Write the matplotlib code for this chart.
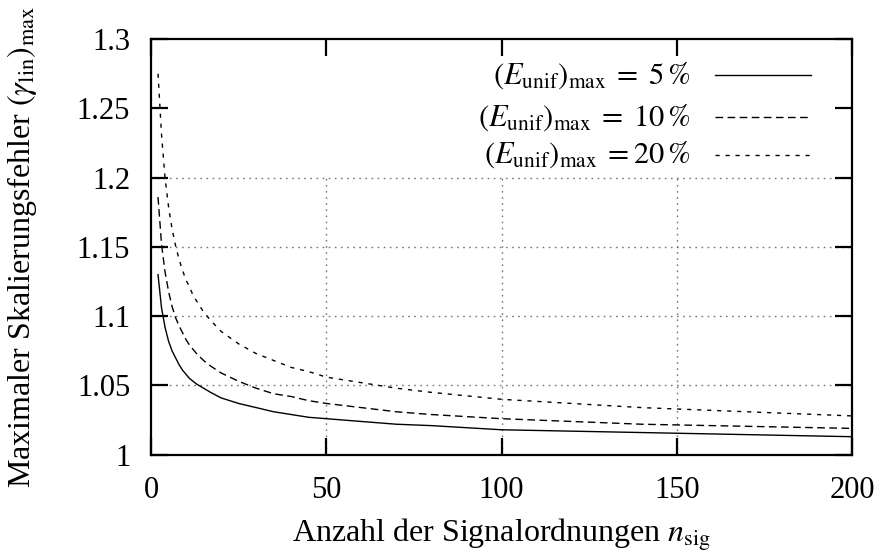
import matplotlib
matplotlib.use("Agg")
import matplotlib.pyplot as plt
from matplotlib.lines import Line2D

plt.rcParams["font.family"] = ["Liberation Serif", "DejaVu Serif"]
plt.rcParams["mathtext.fontset"] = "stix"
plt.rcParams["font.size"] = 22

# values
n_sig = [2, 3, 4, 5, 6, 7, 8, 9, 10, 11, 12, 13, 15, 17, 20, 25, 30, 35,
         40, 45, 50, 60, 70, 80, 100, 120, 140, 160, 180, 200]
gamma_5 = [1.130, 1.106, 1.092, 1.082, 1.075, 1.070, 1.065, 1.061, 1.058,
           1.055, 1.053, 1.051, 1.048, 1.045, 1.041, 1.037, 1.034, 1.031,
           1.029, 1.027, 1.026, 1.024, 1.022, 1.021, 1.018, 1.017, 1.016,
           1.015, 1.014, 1.013]
gamma_10 = [1.186, 1.152, 1.132, 1.118, 1.107, 1.099, 1.093, 1.088, 1.083,
            1.079, 1.076, 1.073, 1.068, 1.064, 1.059, 1.053, 1.048, 1.044,
            1.042, 1.039, 1.037, 1.034, 1.031, 1.029, 1.026, 1.024, 1.022,
            1.021, 1.020, 1.019]
gamma_20 = [1.275, 1.231, 1.200, 1.179, 1.163, 1.151, 1.141, 1.133, 1.126,
            1.121, 1.115, 1.111, 1.103, 1.097, 1.089, 1.080, 1.073, 1.068,
            1.063, 1.060, 1.056, 1.052, 1.048, 1.045, 1.040, 1.037, 1.034,
            1.032, 1.030, 1.028]

labels = [r"$(E_{\mathrm{unif}})_{\mathrm{max}}\;=\;5\,\%$",
          r"$(E_{\mathrm{unif}})_{\mathrm{max}}\;=\;10\,\%$",
          r"$(E_{\mathrm{unif}})_{\mathrm{max}}\;=20\,\%$"]
x_ticks = [0, 50, 100, 150, 200]
y_ticks = [1, 1.05, 1.1, 1.15, 1.2, 1.25, 1.3]
y_tick_labels = ["1", "1.05", "1.1", "1.15", "1.2", "1.25", "1.3"]

styles = [dict(linestyle="-"),
          dict(linestyle=(0, (5.5, 3.2))),
          dict(linestyle=(0, (3.0, 4.2)))]

fig = plt.figure(figsize=(8.8, 5.58), dpi=100)
ax = fig.add_axes([0.1716, 0.1851, 0.7966, 0.7449])
ax.set_xlim(0, 200)
ax.set_ylim(1, 1.3)

# grid (hidden behind the key above 1.2 in the original)
grid_kw = dict(color="#777777", linewidth=1.0, linestyle=(0, (1.2, 3.2)), zorder=1)
ax.vlines(x_ticks[1:-1], 1.0, 1.2, **grid_kw)
ax.hlines(y_ticks[1:5], 0, 200, **grid_kw)

for ys, st in zip([gamma_5, gamma_10, gamma_20], styles):
    ax.plot(n_sig, ys, color="black", linewidth=1.0, zorder=3, **st)

# gnuplot-style key: right-aligned text, sample line to the right
key_y = [0.913, 0.812, 0.721]
for lab, st, yk in zip(labels, styles, key_y):
    ax.text(0.769, yk, lab, transform=ax.transAxes, ha="right", va="center",
            fontsize=22)
    ax.add_line(Line2D([0.805, 0.941], [yk, yk], transform=ax.transAxes,
                       color="black", linewidth=1.0, **st))

ax.set_xticks(x_ticks)
ax.set_yticks(y_ticks)
ax.set_yticklabels(y_tick_labels)
ax.tick_params(direction="in", length=12, width=1.6, top=True, right=True,
               labelsize=22)
ax.tick_params(axis="y", pad=15)
ax.tick_params(axis="x", pad=15)
for sp in ax.spines.values():
    sp.set_linewidth(1.6)

ax.set_xlabel(r"Anzahl der Signalordnungen $n_{\mathrm{sig}}$", fontsize=23)
ax.set_ylabel(r"Maximaler Skalierungsfehler $(\gamma_{\mathrm{lin}})_{\mathrm{max}}$",
              fontsize=23)
ax.xaxis.set_label_coords(0.5, -0.15)
ax.yaxis.set_label_coords(-0.16, 0.5)

fig.savefig("out.png", dpi=100)
